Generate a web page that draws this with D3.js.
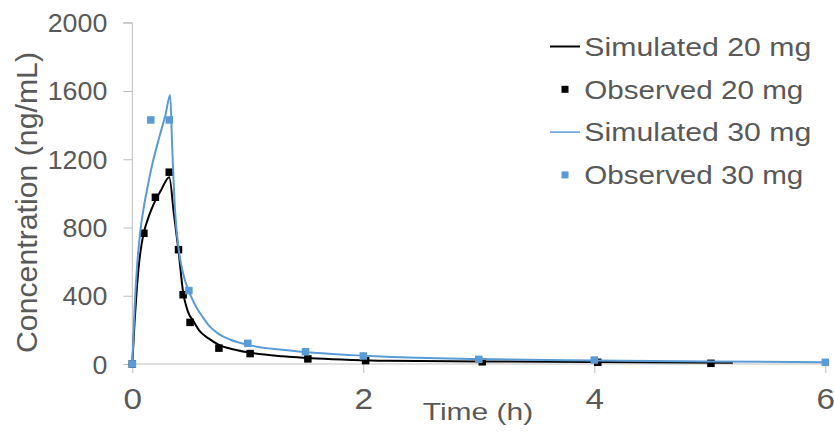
<!DOCTYPE html>
<html>
<head>
<meta charset="utf-8">
<script src="https://cdn.jsdelivr.net/npm/d3@7"></script>
<style>
  html, body { margin: 0; padding: 0; background: #fff; }
  svg { display: block; }
  text { font-family: "Liberation Sans", Arial, sans-serif; fill: #595959; }
</style>
</head>
<body>
<svg id="chart" width="834" height="433"></svg>
<script>
// ---- Data ----
const simTime20 = [0, 0.02, 0.04, 0.06, 0.08, 0.1, 0.13, 0.18, 0.25, 0.32, 0.36, 0.40, 0.44, 0.48, 0.53, 0.58, 0.66, 0.75, 0.88, 1.03, 1.3, 1.6, 1.9, 2.2, 3, 4, 5.2];
const simConc20 = [0, 250, 450, 600, 700, 770, 840, 930, 1020, 1095, 880, 665, 420, 310, 250, 195, 150, 112, 85, 65, 45, 32, 24, 19, 15, 11, 7];

const obsTime20 = [0, 0.1, 0.2, 0.32, 0.4, 0.44, 0.5, 0.75, 1.02, 1.52, 2.02, 3.03, 4.03, 5.01];
const obsConc20 = [0, 766, 977, 1124, 670, 406, 244, 93, 61, 30, 20, 13, 10, 4];

const simTime30 = [0, 0.02, 0.04, 0.066, 0.1, 0.13, 0.173, 0.23, 0.288, 0.328, 0.345, 0.37, 0.40, 0.44, 0.49, 0.53, 0.57, 0.61, 0.66, 0.75, 0.85, 1.0, 1.3, 1.6, 1.9, 2.2, 3, 4, 5, 6];
const simConc30 = [0, 330, 560, 760, 920, 1030, 1170, 1320, 1462, 1577, 1280, 900, 680, 530, 425, 365, 315, 275, 228, 175, 142, 112, 83, 64, 52, 42, 29, 21, 15, 10];

const obsTime30 = [0, 0.16, 0.32, 0.49, 1, 1.5, 2, 3, 4, 6];
const obsConc30 = [0, 1430, 1430, 430, 121, 72, 47, 27.5, 23, 10];

const xTicks = [0, 2, 4, 6];
const yTicks = [0, 400, 800, 1200, 1600, 2000];
const seriesNames = ["Simulated 20 mg", "Observed 20 mg", "Simulated 30 mg", "Observed 30 mg"];

// ---- Layout ----
const svg = d3.select("#chart");
const x = d3.scaleLinear().domain([0, 6]).range([132.3, 825.3]);
const y = d3.scaleLinear().domain([0, 2000]).range([364, 22.7]);
const axisColor = "#BFBFBF";
const black = "#000000";
const blue = "#5B9BD5";
const fontFam = '"Liberation Sans", Arial, sans-serif';

// Y axis
const yAxis = d3.axisLeft(y).tickValues(yTicks).tickSize(9).tickFormat(d3.format("d"));
const gy = svg.append("g").attr("transform", `translate(${x(0)},0)`).call(yAxis);
gy.select(".domain").attr("stroke", axisColor).attr("d", `M-9,${y(2000)}H0V${y(0)}`);
gy.selectAll(".tick line").attr("stroke", axisColor);
gy.selectAll(".tick text")
  .attr("font-size", 25).attr("fill", "#595959").attr("font-family", fontFam)
  .attr("dy", null).attr("y", 9).attr("x", -25)
  .attr("textLength", d => String(d).length * 14.9)
  .attr("lengthAdjust", "spacingAndGlyphs");

// X axis
const xAxis = d3.axisBottom(x).tickValues(xTicks).tickSize(9).tickFormat(d3.format("d"));
const gx = svg.append("g").attr("transform", `translate(0,${y(0)})`).call(xAxis);
gx.select(".domain").attr("stroke", axisColor).attr("d", `M${x(0)},0H${x(6)}`);
gx.selectAll(".tick line").attr("stroke", axisColor);
gx.selectAll(".tick text")
  .attr("font-size", 29).attr("fill", "#595959").attr("font-family", fontFam)
  .attr("dy", null).attr("y", 45)
  .attr("textLength", 18.5).attr("lengthAdjust", "spacingAndGlyphs");

// Axis titles
svg.append("text")
  .attr("transform", "translate(37.3,202.5) rotate(-90)")
  .attr("text-anchor", "middle").attr("font-size", 28.8)
  .attr("textLength", 301).attr("lengthAdjust", "spacingAndGlyphs")
  .text("Concentration (ng/mL)");

svg.append("text")
  .attr("x", 478).attr("y", 420)
  .attr("text-anchor", "middle").attr("font-size", 24.5)
  .attr("textLength", 110.6).attr("lengthAdjust", "spacingAndGlyphs")
  .text("Time (h)");

// Series
const line = d3.line().x(d => x(d[0])).y(d => y(d[1])).curve(d3.curveMonotoneX);
const zip = (a, b) => a.map((v, i) => [v, b[i]]);
const msize = 7.5;

svg.append("path").datum(zip(simTime20, simConc20))
  .attr("d", line).attr("fill", "none").attr("stroke", black).attr("stroke-width", 2);

svg.append("g").selectAll("rect").data(zip(obsTime20, obsConc20)).join("rect")
  .attr("x", d => x(d[0]) - msize / 2).attr("y", d => y(d[1]) - msize / 2)
  .attr("width", msize).attr("height", msize).attr("fill", black);

svg.append("path").datum(zip(simTime30, simConc30))
  .attr("d", line).attr("fill", "none").attr("stroke", blue).attr("stroke-width", 2);

svg.append("g").selectAll("rect").data(zip(obsTime30, obsConc30)).join("rect")
  .attr("x", d => x(d[0]) - msize / 2).attr("y", d => y(d[1]) - msize / 2)
  .attr("width", msize).attr("height", msize).attr("fill", blue);

// Legend
const legendColors = [black, black, blue, blue];
const legendIsLine = [true, false, true, false];
const legendWidths = [227, 219, 227, 219];
const leg = svg.append("g");
seriesNames.forEach((name, i) => {
  const cy = 46.5 + i * 42.8;
  if (legendIsLine[i]) {
    leg.append("line").attr("x1", 550).attr("x2", 580).attr("y1", cy).attr("y2", cy)
      .attr("stroke", legendColors[i]).attr("stroke-width", i === 0 ? 2 : 1.5);
  } else {
    leg.append("rect").attr("x", 565 - 3.5).attr("y", cy - 3.5).attr("width", 7).attr("height", 7)
      .attr("fill", legendColors[i]);
  }
  leg.append("text").attr("x", 584.3).attr("y", cy + 9.2).attr("font-size", 25.6)
    .attr("textLength", legendWidths[i]).attr("lengthAdjust", "spacingAndGlyphs")
    .text(name);
});
</script>
</body>
</html>
